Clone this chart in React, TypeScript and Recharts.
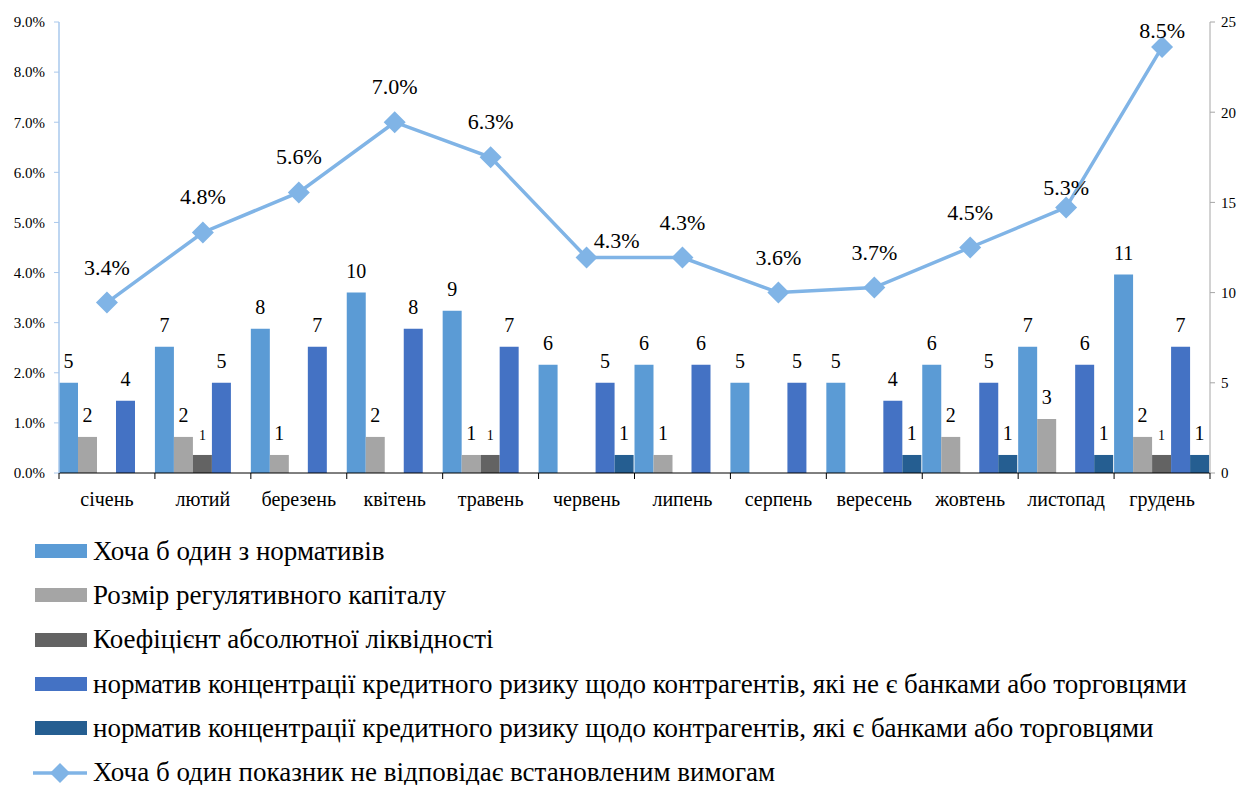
import React from 'react';
import {
  ComposedChart,
  Bar,
  Line,
  XAxis,
  YAxis,
  Legend,
  LabelList,
} from 'recharts';

// ---- data ----
const months = ['січень', 'лютий', 'березень', 'квітень', 'травень', 'червень', 'липень', 'серпень', 'вересень', 'жовтень', 'листопад', 'грудень'];
const anyNorm = [5, 7, 8, 10, 9, 6, 6, 5, 5, 6, 7, 11];
const regCapital = [2, 2, 1, 2, 1, 0, 1, 0, 0, 2, 3, 2];
const absLiquidity = [0, 1, 0, 0, 1, 0, 0, 0, 0, 0, 0, 1];
const nonBankConc = [4, 5, 7, 8, 7, 5, 6, 5, 4, 5, 6, 7];
const bankConc = [0, 0, 0, 0, 0, 1, 0, 0, 1, 1, 1, 1];
const anyIndicatorPct = [3.4, 4.8, 5.6, 7.0, 6.3, 4.3, 4.3, 3.6, 3.7, 4.5, 5.3, 8.5];

const leftTicks = [0, 1, 2, 3, 4, 5, 6, 7, 8, 9];
const rightTicks = [0, 5, 10, 15, 20, 25];

const seriesNames = {
  anyNorm: 'Хоча б один з нормативів',
  regCapital: 'Розмір регулятивного капіталу',
  absLiquidity: 'Коефіцієнт абсолютної ліквідності',
  nonBankConc: 'норматив концентрації кредитного ризику щодо контрагентів, які не є банками або торговцями',
  bankConc: 'норматив концентрації кредитного ризику щодо контрагентів, які є банками або торговцями',
  pct: 'Хоча б один показник не відповідає встановленим вимогам',
};

const data = months.map((m, i) => ({
  month: m,
  anyNorm: anyNorm[i],
  regCapital: regCapital[i],
  absLiquidity: absLiquidity[i],
  nonBankConc: nonBankConc[i],
  bankConc: bankConc[i],
  pct: anyIndicatorPct[i],
}));

// ---- styles ----
const FONT = 'Times New Roman';
const COLORS = {
  anyNorm: '#5b9bd5',
  regCapital: '#a5a5a5',
  absLiquidity: '#636363',
  nonBankConc: '#4472c4',
  bankConc: '#255e91',
  pct: '#80b4e6',
};
const PCT_LABEL_NUDGE: Record<number, { dx: number; up: number }> = {
  5: { dx: 30, up: 10 },
  10: { dx: 0, up: 12 },
  11: { dx: 0, up: 9 },
};

const W = 1243;
const H = 785;
const BAND = (1210 - 59) / 12;

const makeBarLabel = (fontSize: number) => (props: any) => {
  const { x, y, width, value } = props;
  if (!value) return null;
  return (
    <text
      x={Number(x) + Number(width) / 2}
      y={Number(y) - 15}
      textAnchor="middle"
      fontFamily={FONT}
      fontSize={fontSize}
      fill="#000"
    >
      {value}
    </text>
  );
};

const pctLabel = (props: any) => {
  const { x, y, value, index } = props;
  const n = PCT_LABEL_NUDGE[index] || { dx: 0, up: 28 };
  return (
    <text
      x={Number(x) + n.dx}
      y={Number(y) - n.up}
      textAnchor="middle"
      fontFamily={FONT}
      fontSize={22}
      fill="#000"
    >
      {`${Number(value).toFixed(1)}%`}
    </text>
  );
};

const Diamond = (props: any) => {
  const { cx, cy } = props;
  if (cx == null || cy == null) return null;
  const r = 11;
  return (
    <polygon
      points={`${cx},${cy - r} ${cx + r},${cy} ${cx},${cy + r} ${cx - r},${cy}`}
      fill={COLORS.pct}
      stroke="none"
    />
  );
};

const XTick = (props: any) => {
  const { x, y, payload, index, visibleTicksCount } = props;
  const half = payload && payload.offset ? payload.offset : BAND / 2;
  const isLast = index === (visibleTicksCount ?? months.length) - 1;
  return (
    <g>
      <line x1={x - half} x2={x - half} y1={y} y2={y + 6} stroke="#000" strokeWidth={1} />
      {isLast && <line x1={x + half} x2={x + half} y1={y} y2={y + 6} stroke="#000" strokeWidth={1} />}
      <text x={x} y={y + 33} textAnchor="middle" fontFamily={FONT} fontSize={20} fill="#000">
        {payload.value}
      </text>
    </g>
  );
};

const legendItems: { key: keyof typeof COLORS; type: 'rect' | 'line' }[] = [
  { key: 'anyNorm', type: 'rect' },
  { key: 'regCapital', type: 'rect' },
  { key: 'absLiquidity', type: 'rect' },
  { key: 'nonBankConc', type: 'rect' },
  { key: 'bankConc', type: 'rect' },
  { key: 'pct', type: 'line' },
];

const LegendContent = () => (
  <div style={{ height: 266, width: W, fontFamily: FONT, fontSize: 27, color: '#000' }}>
    {legendItems.map((it) => (
      <div
        key={it.key}
        style={{ height: 44.3, display: 'flex', alignItems: 'center', whiteSpace: 'nowrap' }}
      >
        <svg width={87} height={24} style={{ flex: 'none' }}>
          {it.type === 'rect' ? (
            <rect x={35} y={5} width={52} height={14} fill={COLORS[it.key]} />
          ) : (
            <g>
              <line x1={33} x2={87} y1={12} y2={12} stroke={COLORS.pct} strokeWidth={3.5} />
              <polygon points="60,2 70,12 60,22 50,12" fill={COLORS.pct} />
            </g>
          )}
        </svg>
        <span style={{ marginLeft: 6 }}>{seriesNames[it.key]}</span>
      </div>
    ))}
  </div>
);

export default function App() {
  return (
    <div style={{ position: 'absolute', left: 0, top: 0, width: W, height: H, background: '#fff' }}>
      <ComposedChart
        width={W}
        height={H}
        data={data}
        margin={{ top: 22, right: 0, bottom: 0, left: 0 }}
        barCategoryGap={0}
        barGap={0}
      >
        <XAxis
          dataKey="month"
          height={46}
          axisLine={{ stroke: '#000', strokeWidth: 1 }}
          tickLine={false}
          tickSize={0}
          tickMargin={0}
          tick={<XTick />}
          interval={0}
        />
        <YAxis
          yAxisId="left"
          orientation="left"
          width={59}
          domain={[0, 9]}
          ticks={leftTicks}
          tickFormatter={(v: number) => `${v.toFixed(1)}%`}
          axisLine={{ stroke: '#a9c8ec', strokeWidth: 1.5 }}
          tickLine={{ stroke: '#a9c8ec' }}
          tickSize={5}
          tickMargin={9}
          tick={{ fontFamily: FONT, fontSize: 15, fill: '#000' }}
        />
        <YAxis
          yAxisId="right"
          orientation="right"
          width={33}
          domain={[0, 25]}
          ticks={rightTicks}
          axisLine={{ stroke: '#a6a6a6', strokeWidth: 1 }}
          tickLine={{ stroke: '#a6a6a6' }}
          tickSize={5}
          tickMargin={6}
          tick={{ fontFamily: FONT, fontSize: 15, fill: '#000' }}
        />
        <Legend
          layout="vertical"
          verticalAlign="bottom"
          align="center"
          content={<LegendContent />}
          wrapperStyle={{ left: 0, top: 529, width: W, height: 266 }}
        />
        <Bar yAxisId="right" dataKey="anyNorm" name={seriesNames.anyNorm} fill={COLORS.anyNorm} isAnimationActive={false}>
          <LabelList dataKey="anyNorm" content={makeBarLabel(20)} />
        </Bar>
        <Bar yAxisId="right" dataKey="regCapital" name={seriesNames.regCapital} fill={COLORS.regCapital} isAnimationActive={false}>
          <LabelList dataKey="regCapital" content={makeBarLabel(20)} />
        </Bar>
        <Bar yAxisId="right" dataKey="absLiquidity" name={seriesNames.absLiquidity} fill={COLORS.absLiquidity} isAnimationActive={false}>
          <LabelList dataKey="absLiquidity" content={makeBarLabel(14)} />
        </Bar>
        <Bar yAxisId="right" dataKey="nonBankConc" name={seriesNames.nonBankConc} fill={COLORS.nonBankConc} isAnimationActive={false}>
          <LabelList dataKey="nonBankConc" content={makeBarLabel(20)} />
        </Bar>
        <Bar yAxisId="right" dataKey="bankConc" name={seriesNames.bankConc} fill={COLORS.bankConc} isAnimationActive={false}>
          <LabelList dataKey="bankConc" content={makeBarLabel(20)} />
        </Bar>
        <Line
          yAxisId="left"
          type="linear"
          dataKey="pct"
          name={seriesNames.pct}
          stroke={COLORS.pct}
          strokeWidth={3.5}
          dot={<Diamond />}
          activeDot={false}
          isAnimationActive={false}
        >
          <LabelList dataKey="pct" content={pctLabel} />
        </Line>
      </ComposedChart>
    </div>
  );
}
